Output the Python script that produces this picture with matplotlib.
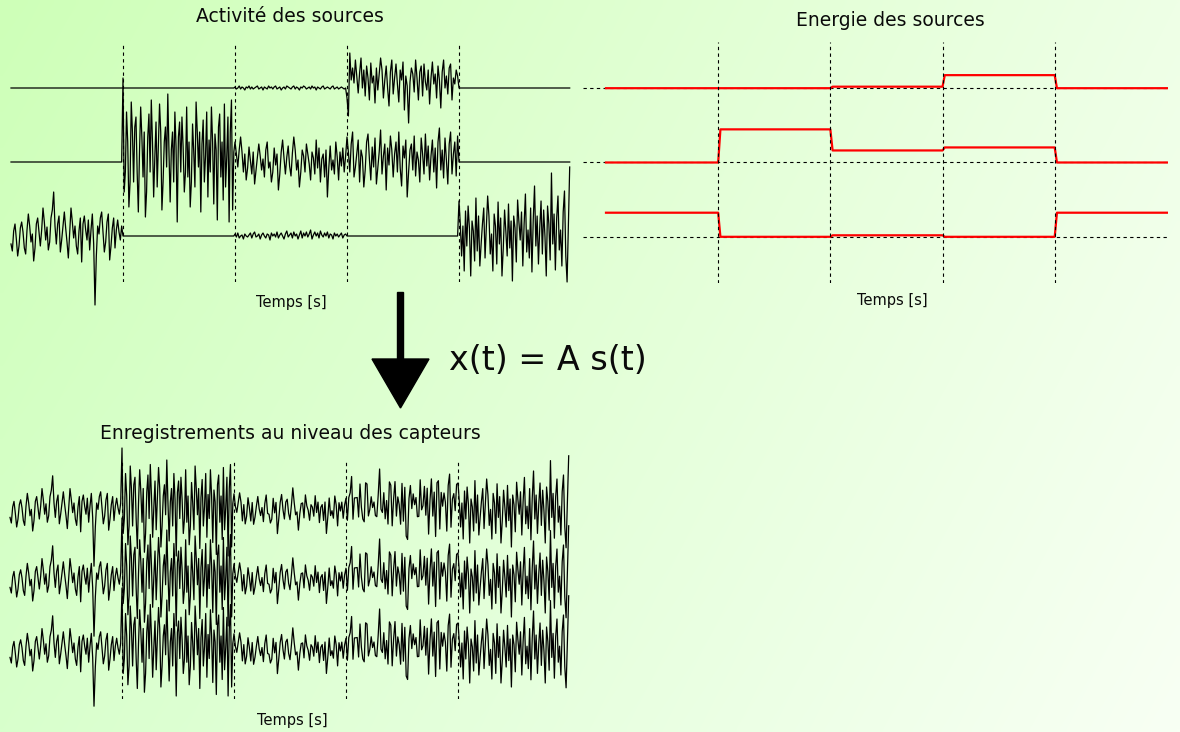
import numpy as np
import matplotlib
matplotlib.use('Agg')
import matplotlib.pyplot as plt
from matplotlib.patches import Polygon, Rectangle

W, H = 1180, 732

# %% Source activity, one list of samples per time segment
# values are deviations from the baseline (positive = up), None = source silent
s1_segments = [
    None,
    None,
    [1, -1, 0, 2, -1, 1, 0, -2, 1, 0, 2, -1, 1, -1, 0, 1, 2, -1, 0, 1,
     -2, 1, 0, -1, 2, 0, 1, -1, 1, 2, -1, 0, 1, -2, 0, 1, -1, 2, 1, 0,
     -1, 1, 2, -1, 1, 0, -2, 1, 0, 2, 1, -1, 0, 1, -1, 2, 0, 1, -2, 1,
     0, -1, 1, 2, -1, 0, 1, 0, -1, 1, 2, -1, 0, 1, -1, 0, 1, 0, -1, 0],
    [-10, -28, 35, 8, 20, 5, 28, 12, -5, 15, 30, 0, 18, -8, 22, 10, -12, 25, 5, 12,
     -15, 20, -2, 14, 30, 18, -10, 8, 22, 0, -18, 16, 28, -6, 10, 24, 4, -14, 18, 8,
     26, -22, 12, 2, -35, 6, 20, 14, -4, 28, 10, -12, 16, 22, -8, 24, 6, -2, 18, -16,
     10, 26, 4, 14, -10, 22, 8, -20, 16, 28, 0, 12, -6, 20, 24, -12, 10, 4, 18, 12],
    None,
]
s2_segments = [
    None,
    [84, -30, -10, 50, 20, -45, -20, 60, 30, -20, 35, 45, -10, -50, 10, 55, 25, -15, 30, -55,
     -30, 25, 48, -10, 62, 20, -35, 5, 40, -25, 15, 58, 30, -48, -20, 20, 35, -5, 68, 10,
     -40, 12, 30, -20, 50, 15, -60, 25, 40, -10, 45, 15, -30, -10, 55, -15, 20, -45, -20, 38,
     10, -25, 60, 30, -5, 30, -50, 18, 42, -20, 6, 50, -35, 22, -10, 55, 20, -42, 28, 12,
     -58, 35, 48, -15, 20, -38, 58, -25, 5, 45, -60, 30, 62, -48, 10],
    [20, 8, -5, 12, 25, 10, -10, 8, -18, -6, 15, 2, -12, 10, -22, -8, 5, 18, 6, -8,
     3, -15, 12, 20, -6, 0, -20, -10, 14, -3, 8, -28, -12, 10, 22, 4, -12, 5, 16, -4,
     -14, 9, 25, 12, -8, 2, -25, -10, 12, 6, -10, 18, 8, -2, -18, 10, 4, -12, 22, -6,
     14, -20, 3, 8, -15, 12, -35, -6, 16, -8, 2, -12, 20, 5, -18, 10, -4, 14, -10, 6],
    [25, 10, -10, 18, 30, -15, -5, 8, 22, -20, 12, 5, -25, -8, 20, 28, 3, -18, 15, -5,
     24, -22, -6, 10, 32, -12, 6, 18, -28, 14, -3, 26, 12, -15, 8, 20, -10, 30, -6, -24,
     16, 4, 22, -35, -10, 12, 18, -8, 26, -14, 10, 2, -20, 24, 8, -12, 28, -4, 16, -18,
     6, 22, -10, 14, -26, 20, 34, -8, 12, -16, 24, 2, -22, 18, 30, -12, 8, 20, -14, 26],
    None,
]
s3_segments = [
    [-8, -15, 5, 12, -3, -20, -10, 8, 14, 4, -12, -18, 6, 22, 10, -6, 2, -25, -12, 12,
     18, 4, -10, 6, 28, 14, -4, 9, -14, -6, 18, 26, 44, 10, -8, 12, 20, -16, -4, 10,
     24, 8, -6, -22, 4, 28, 14, -2, 10, -10, -18, 5, 18, -26, 12, 20, 6, -4, 16, -14,
     6, 22, -8, -69, -20, 10, 2, 18, 24, 4, -16, -6, 14, 22, -24, -10, 8, 18, -12, 6,
     16, 4, -4, 10],
    None,
    [2, -1, 3, -2, 0, 1, -3, 2, 0, -1, 1, 3, -2, 2, 4, -1, 0, 2, -3, 1,
     3, 0, -2, 2, 1, -4, 3, 0, 2, -1, 4, -2, 1, 3, 0, -3, 2, 5, -1, 1,
     3, -2, 4, 0, 2, -3, 1, 5, -2, 3, 0, 4, -1, 2, 6, -3, 1, 4, 0, 3,
     -2, 5, 1, -1, 3, 0, 4, -2, 2, 1, -3, 3, 0, 2, -1, 1, 3, -2, 1, 2],
    None,
    [35, 12, -20, 10, -35, 25, -10, 30, 8, -40, 15, 5, -25, 38, -15, 20, -30, -8, 12, 28,
     -22, 8, 40, 20, -18, 2, -35, 22, 10, -28, 34, -8, 18, -40, -12, 26, 4, -20, 32, -12,
     15, -45, 20, 8, -26, 36, 14, -4, 24, -30, 12, 42, -16, 6, -22, 28, -36, 16, 50, -10,
     20, -28, 8, 35, -18, 26, 0, -40, 30, 12, -24, 63, -8, 22, -34, 18, 40, -14, 6, -30,
     24, 45, -20, -46, 10, 69],
]

# energy level of each source in each segment
s1_energy = [0, 0, 1.5, 13, 0]
s2_energy = [0, 33, 12, 15, 0]
s3_energy = [24, 0, 1.5, 0, 24]

# mixing matrix, x(t) = A s(t)
A = [[0.6, 0.75, 0.8],
     [0.6, 0.75, 0.8],
     [0.6, 0.75, 0.8]]

boundaries = [1, 2, 3, 4]

# %% assemble the time axis and signals
sources = [s1_segments, s2_segments, s3_segments]
t_parts = []
sig_parts = [[], [], []]
for k in range(5):
    n = min(len(src[k]) for src in sources if src[k] is not None)
    t_parts.append(k + np.arange(n) / n)
    for i, src in enumerate(sources):
        seg = src[k]
        sig_parts[i].append(np.zeros(n) if seg is None else np.asarray(seg[:n], float))
t = np.concatenate(t_parts)
S = np.array([np.concatenate(p) for p in sig_parts])
X = np.array(A) @ S


def px_axes(fig, x0, y0, x1, y1):
    return fig.add_axes([x0 / W, 1 - y1 / H, (x1 - x0) / W, (y1 - y0) / H])


def px_text(fig, x, y, s, size):
    fig.text(x / W, 1 - y / H, s, ha='center', va='center', fontsize=size, color='#0a0a0a')


dash = (0, (3, 3))

fig = plt.figure(figsize=(W / 100, H / 100), dpi=100)

# background gradient, greener on the left
bg = fig.add_axes([0, 0, 1, 1])
gx = np.linspace(0, 1, 200)[None, :, None]
gy = np.linspace(0, 1, 120)[:, None, None]
tl = np.array([206, 255, 184]) / 255
tr = np.array([238, 255, 230]) / 255
bl = np.array([216, 255, 204]) / 255
br = np.array([248, 255, 244]) / 255
grad = (1 - gy) * ((1 - gx) * tl + gx * tr) + gy * ((1 - gx) * bl + gx * br)
bg.imshow(grad, extent=[0, W, H, 0], aspect='auto', interpolation='bilinear')
bg.set_xlim(0, W)
bg.set_ylim(H, 0)
bg.set_axis_off()

# arrow between the two rows
bg.add_patch(Rectangle((397, 292), 6, 68, color='black'))
bg.add_patch(Polygon([(372, 359), (429, 359), (400.5, 408)], closed=True, color='black'))
px_text(fig, 548, 361, 'x(t) = A s(t)', 24)

# source activity
ax1 = px_axes(fig, 11, 42, 571, 282)
for row, off in zip(S, [148, 74, 0]):
    ax1.plot(t, row + off, color='black', lw=0.9, clip_on=False)
for b in boundaries:
    ax1.axvline(b, color='black', lw=0.8, ls=dash)
ax1.set_xlim(0, 5)
ax1.set_ylim(-46, 194)
ax1.set_axis_off()
px_text(fig, 290, 17, 'Activité des sources', 13.5)
px_text(fig, 291, 303, 'Temps [s]', 10.5)

# source energy
ax2 = px_axes(fig, 583, 42, 1168, 283)
for levels, off in zip([s1_energy, s2_energy, s3_energy], [148, 74, 0]):
    ax2.axhline(off, color='black', lw=0.8, ls=dash)
    xs, ys = [], []
    for k, lev in enumerate(levels):
        xs += [k + (0.02 if k > 0 else 0), k + 1]
        ys += [lev + off, lev + off]
    ax2.plot(xs, ys, color='red', lw=1.6)
for b in boundaries:
    ax2.axvline(b, color='black', lw=0.8, ls=dash)
ax2.set_xlim(-0.205, 5.01)
ax2.set_ylim(-46, 194)
ax2.set_axis_off()
px_text(fig, 890, 20, 'Energie des sources', 13.5)
px_text(fig, 892, 300, 'Temps [s]', 10.5)

# sensor recordings
ax3 = px_axes(fig, 10, 460, 570, 699)
for row, off in zip(X, [140, 70, 0]):
    ax3.plot(t, row + off, color='black', lw=0.9, clip_on=False)
for b in boundaries:
    ax3.axvline(b, color='black', lw=0.8, ls=dash)
ax3.set_xlim(0, 5)
ax3.set_ylim(-48, 191)
ax3.set_axis_off()
px_text(fig, 290, 433, 'Enregistrements au niveau des capteurs', 13.5)
px_text(fig, 292, 721, 'Temps [s]', 10.5)

fig.savefig('out.png', dpi=100)
